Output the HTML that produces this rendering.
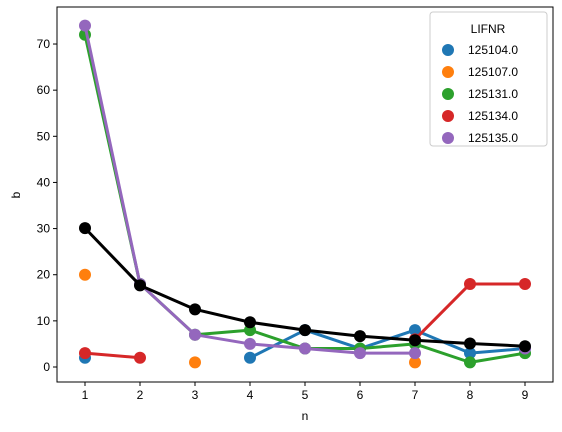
<!DOCTYPE html>
<html><head><meta charset="utf-8"><style>body{margin:0;background:#fff}svg{display:block;font-family:"Liberation Sans","DejaVu Sans",sans-serif}</style></head>
<body>
<svg id="chart" width="562" height="432" viewBox="0 0 562 432">
<rect x="57" y="7" width="496" height="375" fill="#fff" stroke="#000" stroke-width="1"/>
<g id="ticks"></g><g id="marks"></g>
<text x="305" y="420" text-anchor="middle" font-size="12">n</text>
<text x="20" y="195" text-anchor="middle" font-size="12" transform="rotate(-90 20 195)">b</text>
<g id="legend">
<rect x="430" y="12" width="117" height="134" rx="3" fill="#fff" stroke="#ccc"/>
<text x="488" y="33" text-anchor="middle" font-size="12">LIFNR</text>
</g>
</svg>
<script>
const categories=[1,2,3,4,5,6,7,8,9];
const seriesNames=["125104.0","125107.0","125131.0","125134.0","125135.0"];
const colors=["#1f77b4","#ff7f0e","#2ca02c","#d62728","#9467bd"];
const s125104=[2,null,null,2,8,4,8,3,4];
const s125107=[20,null,1,null,null,null,1,null,null];
const s125131=[72,18,7,8,4,4,5,1,3];
const s125134=[3,2,null,null,null,null,6,18,18];
const s125135=[74,18,7,5,4,3,3,null,4];
const meanValues=[30.1,17.7,12.5,9.7,8,6.7,5.8,5.1,4.5];
const yTicks=[0,10,20,30,40,50,60,70];
const series=[s125104,s125107,s125131,s125134,s125135];
const NS="http://www.w3.org/2000/svg";
const xs=c=>85+(c-1)*55;
const ys=v=>367-v*4.614;
const tg=document.getElementById('ticks'),mg=document.getElementById('marks'),lg=document.getElementById('legend');
function mk(t,a,p){const e=document.createElementNS(NS,t);for(const k in a)e.setAttribute(k,a[k]);p.appendChild(e);return e;}
categories.forEach(c=>{
 const l=mk('line',{x1:xs(c),x2:xs(c),y1:382,y2:386,stroke:'#000'},tg);
 
 
 const t=mk('text',{x:xs(c),y:399,'text-anchor':'middle','font-size':12},tg);t.textContent=c;
 
 
});
yTicks.forEach(v=>{
 const l=mk('line',{x1:53,x2:57,y1:ys(v),y2:ys(v),stroke:'#000'},tg);
 
 
 const t=mk('text',{x:50,y:ys(v)+4,'text-anchor':'end','font-size':12},tg);t.textContent=v;
 
 
});
function drawSeries(vals,col,name){
 const g=mk('g',{},mg);
 
 
 for(let i=0;i<vals.length-1;i++){
  if(vals[i]!=null&&vals[i+1]!=null){
   const l=mk('line',{x1:xs(categories[i]),y1:ys(vals[i]),x2:xs(categories[i+1]),y2:ys(vals[i+1]),stroke:col,'stroke-width':3},g);
   
   
  }
 }
 vals.forEach((v,i)=>{if(v==null)return;
  const c=mk('circle',{cx:xs(categories[i]),cy:ys(v),r:6,fill:col},g);
  
  
 });
}
series.forEach((s,i)=>drawSeries(s,colors[i],seriesNames[i]));
drawSeries(meanValues,'#000','mean');
seriesNames.forEach((n,i)=>{
 const y=50+i*22;
 const c=mk('circle',{cx:448,cy:y,r:6,fill:colors[i]},lg);
 
 
 const t=mk('text',{x:468,y:y+4,'font-size':12},lg);t.textContent=n;
 
 
});
</script>
</body></html>
